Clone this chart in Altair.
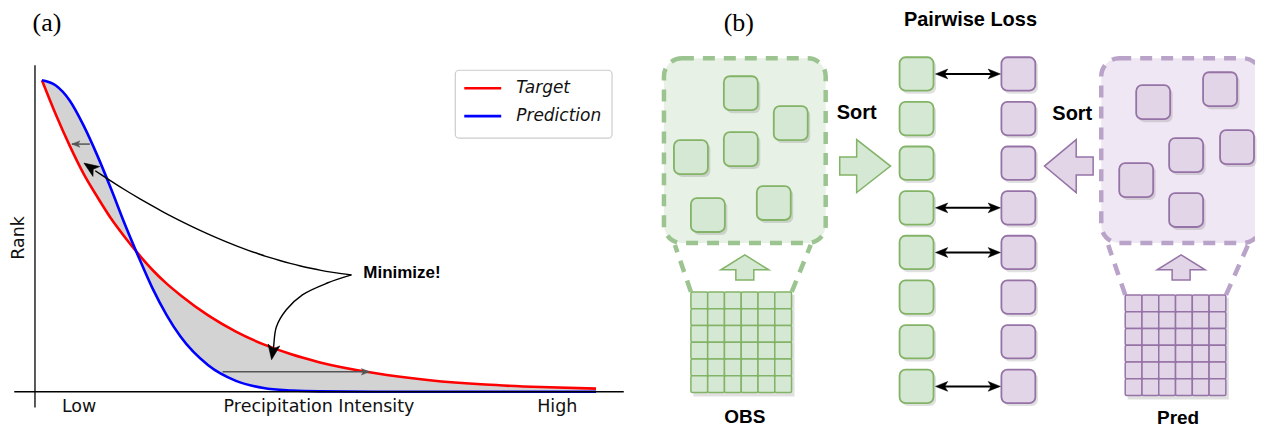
import altair as alt
import numpy as np
import pandas as pd

# ================= values =================
# panel (a): rank curves against precipitation intensity (0 = low, 1 = high)
intensity   = [0.0, 0.025, 0.05, 0.075, 0.1, 0.125, 0.15, 0.175, 0.2, 0.225, 0.25,
               0.3, 0.35, 0.4, 0.45, 0.5, 0.6, 0.7, 0.8, 0.9, 1.0]
target_rank = [1.00, 0.89, 0.79, 0.70, 0.625, 0.555, 0.495, 0.44, 0.39, 0.347, 0.31,
               0.245, 0.193, 0.152, 0.12, 0.095, 0.06, 0.037, 0.023, 0.015, 0.010]
pred_rank   = [1.00, 0.983, 0.935, 0.855, 0.758, 0.65, 0.536, 0.43, 0.33, 0.246, 0.177,
               0.085, 0.035, 0.012, 0.004, 0.001, 0.0, 0.0, 0.0, 0.0, 0.0]
series_names  = ["Target", "Prediction"]
series_colors = ["#ff0000", "#0000ff"]
x_labels   = ["Low", "Precipitation Intensity", "High"]
x_label_at = [0.067, 0.50, 0.93]
y_title = "Rank"
note_text = "Minimize!"
note_at = (0.580, 0.381)
# annotation arrows (intensity, rank): start at the note, bend through a control point, end at the tip
note_start = (0.5586, 0.375)
note_ctrl_1 = (0.3315, 0.4199)
note_tip_1 = (0.0757, 0.734)
note_path_2_t = [0.5586, 0.515, 0.470, 0.441, 0.423, 0.418, 0.4162]
note_path_2_r = [0.375, 0.349, 0.311, 0.263, 0.208, 0.144, 0.1218]
note_tip_2 = (0.4144, 0.1026)
note_tip_angle = [214, 99]
gap_from_t = [0.0865, 0.326]
gap_to_t   = [0.054, 0.591]
gap_r      = [0.795, 0.064]
gap_angle  = [180, 0]

# panel (b)
panel_tags = ["(a)", "(b)"]
b_title = "Pairwise Loss"
b_sources = ["OBS", "Pred"]
sort_text = "Sort"
n_sorted = 8
paired_rows = [0, 3, 4, 7]
grid_n = 6

# ================= panel (a) =================
A_W, A_H = 632, 411
XA = alt.Scale(domain=[-0.0613, 1.0775], nice=False, zero=False)
YA = alt.Scale(domain=[-0.0865, 1.2308], nice=False, zero=False)


def xa(f):
    return alt.X(f, type="quantitative", scale=XA, axis=None)


def ya(f):
    return alt.Y(f, type="quantitative", scale=YA, axis=None)


HEAD = "M0,0L-2,-0.8L-1.5,0L-2,0.8Z"

wide = pd.DataFrame({"t": intensity, "Target": target_rank, "Prediction": pred_rank})
long = wide.melt(id_vars="t", value_vars=series_names, var_name="series", value_name="rank")

gap_area = alt.Chart(wide).mark_area(color="#d3d3d3", interpolate="monotone", opacity=1).encode(
    x=xa("t"), y=ya("Target"), y2=alt.Y2("Prediction"))

curves = alt.Chart(long).mark_line(strokeWidth=2.6, interpolate="monotone").encode(
    x=xa("t"), y=ya("rank"),
    color=alt.Color("series:N", scale=alt.Scale(domain=series_names, range=series_colors), legend=None))

spine_x = alt.Chart(pd.DataFrame({"t0": [-0.05], "t1": [1.05], "r": [0.0]})).mark_rule(
    color="black", strokeWidth=1.3).encode(x=xa("t0"), x2=alt.X2("t1"), y=ya("r"))
spine_y = alt.Chart(pd.DataFrame({"t": [-0.0126], "r0": [-0.051], "r1": [1.048]})).mark_rule(
    color="black", strokeWidth=1.3).encode(x=xa("t"), y=ya("r0"), y2=alt.Y2("r1"))

gap_df = pd.DataFrame({"t0": gap_from_t, "t1": gap_to_t, "r": gap_r, "ang": gap_angle})
gap_lines = alt.Chart(gap_df).mark_rule(color="#555555", strokeWidth=1.5).encode(
    x=xa("t0"), x2=alt.X2("t1"), y=ya("r"))
gap_heads = alt.Chart(gap_df).mark_point(shape=HEAD, size=64, filled=True, fill="#555555",
                                         stroke="#555555", strokeWidth=0.5, opacity=1).encode(
    x=xa("t1"), y=ya("r"), angle=alt.Angle("ang:Q", scale=None))

# first annotation arrow: quadratic bend (like an arc connector)
s = np.linspace(0, 0.96, 25)
p0, c1, p2 = np.array(note_start), np.array(note_ctrl_1), np.array(note_tip_1)
arc = ((1 - s) ** 2)[:, None] * p0 + (2 * s * (1 - s))[:, None] * c1 + (s ** 2)[:, None] * p2
rows = [{"id": 0, "i": i, "t": a[0], "r": a[1]} for i, a in enumerate(arc)]
rows += [{"id": 1, "i": i, "t": t, "r": r} for i, (t, r) in enumerate(zip(note_path_2_t, note_path_2_r))]
note_lines = alt.Chart(pd.DataFrame(rows)).mark_line(
    color="black", strokeWidth=1.4, interpolate="catmull-rom").encode(
    x=xa("t"), y=ya("r"), detail="id:N", order="i:Q")
note_heads = alt.Chart(pd.DataFrame({"t": [note_tip_1[0], note_tip_2[0]],
                                     "r": [note_tip_1[1], note_tip_2[1]],
                                     "ang": note_tip_angle})).mark_point(
    shape=HEAD, size=225, filled=True, fill="black", stroke="black", strokeWidth=0.5, opacity=1).encode(
    x=xa("t"), y=ya("r"), angle=alt.Angle("ang:Q", scale=None))
note_label = alt.Chart(pd.DataFrame({"s": [note_text], "t": [note_at[0]], "r": [note_at[1]]})).mark_text(
    font="Liberation Sans", fontWeight="bold", fontSize=17, align="left", baseline="middle", color="black").encode(
    x=xa("t"), y=ya("r"), text="s:N")

tick_text = alt.Chart(pd.DataFrame({"s": x_labels, "t": x_label_at, "r": [-0.064] * 3})).mark_text(
    font="DejaVu Sans", fontSize=17.5, align="center", baseline="alphabetic", color="#111111").encode(
    x=xa("t"), y=ya("r"), text="s:N")
rank_text = alt.Chart(pd.DataFrame({"s": [y_title], "t": [-0.0415], "r": [0.494]})).mark_text(
    font="DejaVu Sans", fontSize=17.5, angle=270, align="center", baseline="middle", color="#111111").encode(
    x=xa("t"), y=ya("r"), text="s:N")
tag_a = alt.Chart(pd.DataFrame({"s": [panel_tags[0]], "t": [0.009], "r": [1.184]})).mark_text(
    font="Liberation Serif", fontSize=26, align="center", baseline="middle", color="black").encode(
    x=xa("t"), y=ya("r"), text="s:N")

# legend drawn as a box with one row per series
one = pd.DataFrame({"a": [0]})
legend_layers = [alt.Chart(one).mark_rect(fill="white", stroke="#cccccc", strokeWidth=1.2, cornerRadius=4).encode(
    x=alt.value(448), x2=alt.value(605), y=alt.value(62), y2=alt.value(130))]
for i, (name, col) in enumerate(zip(series_names, series_colors)):
    yy = 80 + 28 * i
    legend_layers.append(alt.Chart(one).mark_rule(color=col, strokeWidth=2.6).encode(
        x=alt.value(457), x2=alt.value(494), y=alt.value(yy)))
    legend_layers.append(alt.Chart(one).mark_text(
        text=name, font="DejaVu Sans", fontStyle="italic", fontSize=17, align="left",
        baseline="middle", color="#111111").encode(x=alt.value(509), y=alt.value(yy)))

panel_a = alt.layer(gap_area, curves, spine_x, spine_y, gap_lines, gap_heads, note_lines, note_heads,
                    note_label, tick_text, rank_text, tag_a, *legend_layers).properties(width=A_W, height=A_H)

# ================= panel (b) =================
B_W, B_H = 617, 411
XB = alt.Scale(domain=[640, 1257], nice=False, zero=False)
YB = alt.Scale(domain=[8, 419], nice=False, zero=False, reverse=True)


def xb(f):
    return alt.X(f, type="quantitative", scale=XB, axis=None)


def yb(f):
    return alt.Y(f, type="quantitative", scale=YB, axis=None)


def rects(df, **props):
    return alt.Chart(df).mark_rect(**props).encode(
        x=xb("x0"), x2=alt.X2("x1"), y=yb("y0"), y2=alt.Y2("y1"))


RIGHT = "M-0.96,-0.34L-0.32,-0.34L-0.32,-1L0.96,0L-0.32,1L-0.32,0.34L-0.96,0.34Z"
LEFT = "M0.92,-0.34L0.28,-0.34L0.28,-1L-0.92,0L0.28,1L0.28,0.34L0.92,0.34Z"
UP = "M0,-0.52L1,0.1L0.375,0.1L0.375,0.52L-0.375,0.52L-0.375,0.1L-1,0.1Z"

styles = [
    dict(fill="#d5e8d4", stroke="#82b366", box_fill="#e7f1e5", dash="#9cc490"),
    dict(fill="#e1d5e7", stroke="#9673a6", box_fill="#efe7f3", dash="#b9a3c9"),
]
layout = [
    dict(box=(665, 58, 827, 243), clip=False,
         squares=[(725, 76), (775, 106), (675, 140), (725, 132), (692, 198), (758, 186)],
         grid=(692, 292), up=(746, 267.5), label=(746, 417),
         legs=[(692, 292, 676, 245), (793, 292, 812, 245)],
         col_x=901, sort=(858, 113), arrow=(866.5, 166), shape=RIGHT),
    dict(box=(1103, 58, 1263, 243), clip=True,
         squares=[(1138, 85), (1205, 72), (1222, 130), (1171, 138), (1121, 163), (1171, 193)],
         grid=(1127, 295), up=(1183, 267.5), label=(1180, 418),
         legs=[(1127, 295, 1110, 245), (1228, 295, 1250, 245)],
         col_x=1003, sort=(1074, 114), arrow=(1070.5, 166), shape=LEFT),
]
SQ = 34
COL_TOP, COL_STEP, COL_H = 57, 44.7, 33.5
CELL = 16.8

b_layers = []
for side, st, lay in zip(b_sources, styles, layout):
    x0, y0, x1, y1 = lay["box"]
    b_layers.append(rects(pd.DataFrame({"x0": [x0], "x1": [x1], "y0": [y0], "y1": [y1]}),
                          fill=st["box_fill"], stroke=st["dash"], strokeWidth=4.5,
                          strokeDash=[12, 9], cornerRadius=18, clip=lay["clip"]))
    legs = pd.DataFrame(lay["legs"], columns=["xa", "ya", "xb", "yb"])
    b_layers.append(alt.Chart(legs).mark_rule(color=st["dash"], strokeWidth=4.5, strokeDash=[12, 9]).encode(
        x=xb("xa"), y=yb("ya"), x2=alt.X2("xb"), y2=alt.Y2("yb")))

    # scattered and sorted squares (with a soft shadow)
    sq = [(x, y, x + SQ, y + SQ) for x, y in lay["squares"]]
    sq += [(lay["col_x"], COL_TOP + i * COL_STEP, lay["col_x"] + SQ, COL_TOP + i * COL_STEP + COL_H)
           for i in range(n_sorted)]
    sq_df = pd.DataFrame(sq, columns=["x0", "y0", "x1", "y1"])
    sh_df = sq_df.copy()
    sh_df[["x0", "x1"]] += 2.5
    sh_df[["y0", "y1"]] += 3
    b_layers.append(rects(sh_df, fill="#000000", opacity=0.12, cornerRadius=6))
    b_layers.append(rects(sq_df, fill=st["fill"], stroke=st["stroke"], strokeWidth=1.8, cornerRadius=6))

    # the 6 x 6 input grid
    gx, gy = lay["grid"]
    g_sh = pd.DataFrame({"x0": [gx + 2.5], "x1": [gx + grid_n * CELL + 3], "y0": [gy + 3],
                         "y1": [gy + grid_n * CELL + 4]})
    b_layers.append(rects(g_sh, fill="#000000", opacity=0.12))
    cells = [(gx + c * CELL, gy + r * CELL, gx + (c + 1) * CELL, gy + (r + 1) * CELL)
             for r in range(grid_n) for c in range(grid_n)]
    b_layers.append(rects(pd.DataFrame(cells, columns=["x0", "y0", "x1", "y1"]),
                          fill=st["fill"], stroke=st["stroke"], strokeWidth=1.5, cornerRadius=1.5))

    # block arrows
    b_layers.append(alt.Chart(pd.DataFrame({"x": [lay["arrow"][0]], "y": [lay["arrow"][1]]})).mark_point(
        shape=lay["shape"], size=2809, filled=True, fill=st["fill"], stroke=st["stroke"],
        strokeWidth=1.5, opacity=1).encode(x=xb("x"), y=yb("y")))
    b_layers.append(alt.Chart(pd.DataFrame({"x": [lay["up"][0]], "y": [lay["up"][1]]})).mark_point(
        shape=UP, size=2304, filled=True, fill=st["fill"], stroke=st["stroke"],
        strokeWidth=1.5, opacity=1).encode(x=xb("x"), y=yb("y")))

    # texts
    b_layers.append(alt.Chart(pd.DataFrame({"s": [sort_text], "x": [lay["sort"][0]], "y": [lay["sort"][1]]})).mark_text(
        font="Liberation Sans", fontWeight="bold", fontSize=20, align="center", baseline="middle",
        color="black").encode(x=xb("x"), y=yb("y"), text="s:N"))
    b_layers.append(alt.Chart(pd.DataFrame({"s": [side], "x": [lay["label"][0]], "y": [lay["label"][1]]})).mark_text(
        font="Liberation Sans", fontWeight="bold", fontSize=19, align="center", baseline="middle",
        color="black").encode(x=xb("x"), y=yb("y"), text="s:N"))

# pairwise double arrows
pairs = pd.DataFrame({"y": [COL_TOP + i * COL_STEP + COL_H / 2 for i in paired_rows]})
pairs["xl"] = 937.0
pairs["xr"] = 1002.0
pairs["xl_in"] = 945.0
pairs["xr_in"] = 994.0
b_layers.append(alt.Chart(pairs).mark_rule(color="black", strokeWidth=2).encode(
    x=xb("xl_in"), x2=alt.X2("xr_in"), y=yb("y")))
heads = pd.concat([pairs.assign(x=pairs["xl"], ang=180), pairs.assign(x=pairs["xr"], ang=0)])
b_layers.append(alt.Chart(heads).mark_point(shape=HEAD, size=150, filled=True, fill="black",
                                            stroke="black", strokeWidth=0.5, opacity=1).encode(
    x=xb("x"), y=yb("y"), angle=alt.Angle("ang:Q", scale=None)))

b_layers.append(alt.Chart(pd.DataFrame({"s": [b_title], "x": [972], "y": [20]})).mark_text(
    font="Liberation Sans", fontWeight="bold", fontSize=20, align="center", baseline="middle",
    color="black").encode(x=xb("x"), y=yb("y"), text="s:N"))
b_layers.append(alt.Chart(pd.DataFrame({"s": [panel_tags[1]], "x": [740], "y": [22.5]})).mark_text(
    font="Liberation Serif", fontSize=26, align="center", baseline="middle",
    color="black").encode(x=xb("x"), y=yb("y"), text="s:N"))

panel_b = alt.layer(*b_layers).properties(width=B_W, height=B_H)

chart = alt.hconcat(panel_a, panel_b, spacing=0).properties(padding=0).configure_view(stroke=None)
chart.save("out.html", embed_options={"renderer": "svg", "actions": False})
